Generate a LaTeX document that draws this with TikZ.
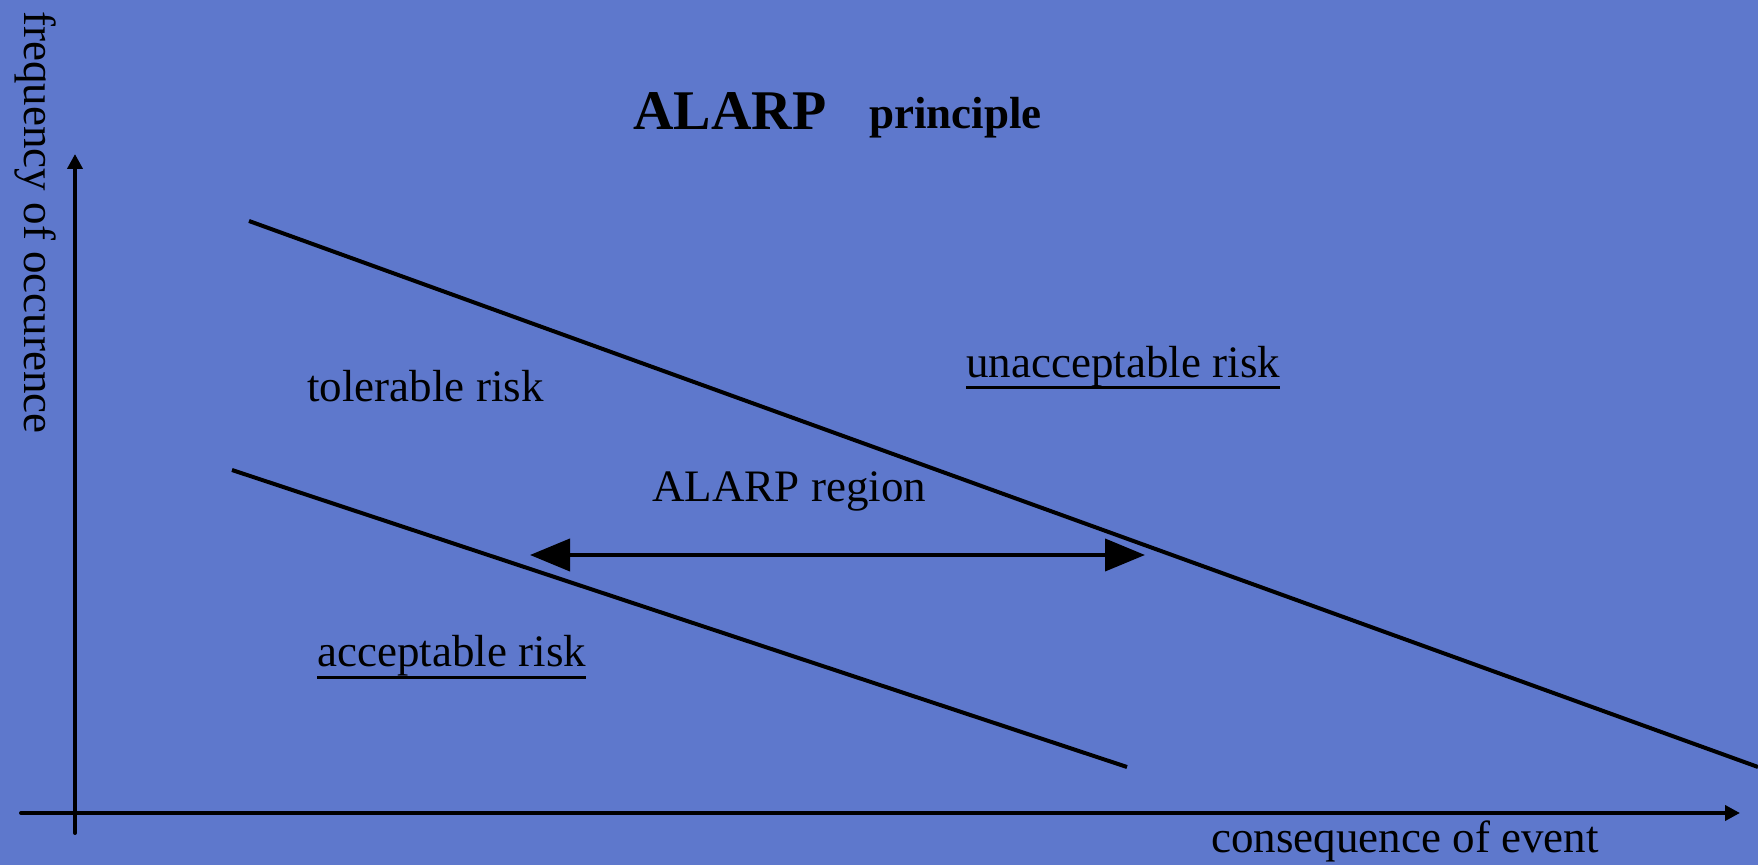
\documentclass[tikz,border=0pt]{standalone}
\usepackage{fontspec}
\setmainfont{Liberation Serif}
\usetikzlibrary{arrows.meta}
\definecolor{bgblue}{RGB}{94,120,204}
\tikzset{
  lbl/.style={inner sep=0pt, anchor=base west, font=\fontsize{22.5pt}{27pt}\selectfont},
  riskline/.style={line width=2pt},
  axis/.style={line width=2pt, line cap=round, -{Triangle[length=7.5pt,width=7.5pt]}},
  twoway/.style={line width=2pt, {Triangle[length=20pt,width=16pt]}-{Triangle[length=20pt,width=16pt]}},
  uline/.style={line width=1.5pt}
}
\begin{document}
\begin{tikzpicture}[x=0.5pt,y=-0.5pt]
\fill[bgblue] (0,0) rectangle (1758,865);
\useasboundingbox (0,0) rectangle (1758,865);

% axes
\coordinate (ybot) at (75,833);
\coordinate (ytop) at (75,154);
\coordinate (xleft) at (21,813);
\coordinate (xright) at (1740,813);
\draw[axis] (ybot) -- (ytop);
\draw[axis] (xleft) -- (xright);

% risk boundary lines
\coordinate (u1) at (249,221);
\coordinate (u2) at (1758,767);
\coordinate (l1) at (232,470);
\coordinate (l2) at (1127,767);
\draw[riskline] (u1) -- (u2);
\draw[riskline] (l1) -- (l2);

% ALARP region arrow
\coordinate (aL) at (530,555);
\coordinate (aR) at (1145,555);
\draw[twoway] (aL) -- (aR);

% title
\node[lbl, font=\fontsize{28pt}{33pt}\selectfont\bfseries] (t1) at (633,130) {ALARP};
\node[lbl, font=\fontsize{22.5pt}{27pt}\selectfont\bfseries] (t2) at (869,129) {principle};

% labels
\node[lbl] (tol) at (307,402) {tolerable risk};
\node[lbl] (unacc) at (966,378) {unacceptable risk};
\draw[uline] ([yshift=-5pt]unacc.base west) -- ([yshift=-5pt]unacc.base east);
\node[lbl] (reg) at (652,502) {ALARP region};
\node[lbl] (acc) at (317,667) {acceptable risk};
\draw[uline] ([yshift=-5.5pt]acc.base west) -- ([yshift=-5.5pt]acc.base east);
\node[lbl] (xlab) at (1211,853) {consequence of event};
\node[lbl, rotate=-90] (ylab) at (25,11) {frequency of occurence};
\end{tikzpicture}
\end{document}
